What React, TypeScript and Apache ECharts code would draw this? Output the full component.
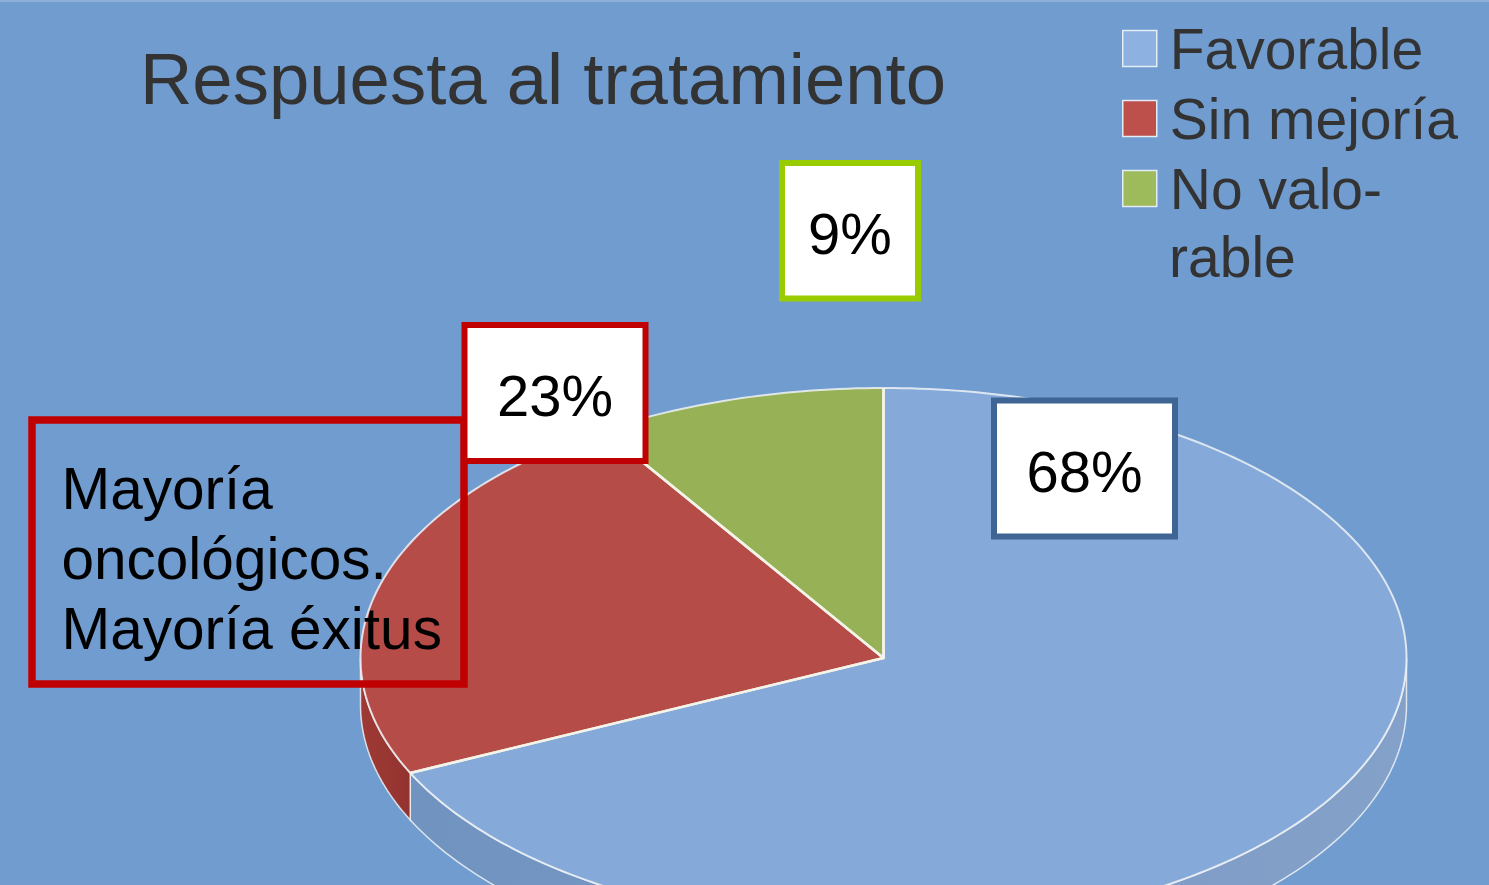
import React, { useEffect, useRef } from "react";
import * as echarts from "echarts";

const titleText = "Respuesta al tratamiento";
const categories = ["Favorable", "Sin mejoría", "No valorable"];
const legendLines = ["Favorable", "Sin mejoría", "No valo-"];
const legendContinuation = "rable";
const values = [68, 23, 9];
const topColors = ["#85A9D8", "#B64C48", "#96B156"];
const legendColors = ["#8DB1E1", "#BE504C", "#9EBB5C"];
const wallStops = [
  [{ offset: 0, color: "#7093C0" }, { offset: 0.5, color: "#7A99C4" }, { offset: 1, color: "#84A1C9" }],
  [{ offset: 0, color: "#9E3A36" }, { offset: 1, color: "#93332F" }],
  [{ offset: 0, color: "#7F9A45" }, { offset: 1, color: "#7F9A45" }],
];
const noteLines = ["Mayoría", "oncológicos.", "Mayoría éxitus"];
const boxColors = ["#3F6595", "#C00000", "#99CC00"];

const CX = 883.5;
const CY = 658;
const RX = 523;
const RY = 270;
const DEPTH = 47;
const TOTAL = values.reduce((a, b) => a + b, 0);
const RIM = "rgba(238,242,246,0.85)";
const SPOKE = "rgba(243,243,232,0.95)";

// angle measured clockwise from 12 o'clock, in degrees
const rim = (deg: number, dy = 0): number[] => {
  const a = (deg * Math.PI) / 180;
  return [CX + RX * Math.sin(a), CY - RY * Math.cos(a) + dy];
};
const arcPoints = (from: number, to: number, dy = 0): number[][] => {
  const n = Math.max(2, Math.ceil(Math.abs(to - from)));
  const pts: number[][] = [];
  for (let i = 0; i <= n; i++) pts.push(rim(from + ((to - from) * i) / n, dy));
  return pts;
};

const sliceRenderer = (index: number) => (_params: any, api: any) => {
  const before = values.slice(0, index).reduce((a, b) => a + b, 0);
  const start = (before / TOTAL) * 360;
  const end = start + (api.value(0) / TOTAL) * 360;
  const children: any[] = [];
  const wallFrom = Math.max(start, 90);
  const wallTo = Math.min(end, 270);
  if (wallTo > wallFrom) {
    children.push({
      type: "polygon",
      z2: 1,
      shape: { points: [...arcPoints(wallFrom, wallTo), ...arcPoints(wallTo, wallFrom, DEPTH)] },
      style: {
        fill: { type: "linear", x: 0, y: 0, x2: 1, y2: 0, colorStops: wallStops[index] },
        stroke: RIM,
        lineWidth: 1.5,
      },
    });
  }
  children.push({
    type: "polygon",
    z2: 2,
    shape: { points: [[CX, CY], ...arcPoints(start, end)] },
    style: { fill: topColors[index] },
  });
  children.push({
    type: "polyline",
    z2: 3,
    shape: { points: arcPoints(start, end) },
    style: { fill: "none", stroke: RIM, lineWidth: 2 },
  });
  children.push({
    type: "polyline",
    z2: 4,
    shape: { points: [rim(start), [CX, CY], rim(end)] },
    style: { fill: "none", stroke: SPOKE, lineWidth: 2.6, lineJoin: "round" },
  });
  return { type: "group", children };
};

const boxes = [
  { x: 994, y: 400.5, width: 181, height: 136 },
  { x: 464.5, y: 325, width: 181, height: 136 },
  { x: 782, y: 163, width: 136, height: 135.5 },
];
const labelCenters = [
  [1084.5, 471],
  [555, 395],
  [850, 233],
];

export default function App() {
  const ref = useRef<HTMLDivElement>(null);
  useEffect(() => {
    document.body.style.margin = "0";
    const chart = echarts.init(ref.current!, null, { renderer: "svg" });
    const font = "'Liberation Sans', Arial, sans-serif";
    chart.setOption({
      animation: false,
      backgroundColor: "#709CCF",
      title: {
        text: titleText,
        left: 140,
        top: 42,
        padding: 0,
        textStyle: { fontFamily: font, fontSize: 72.5, fontWeight: "normal", color: "#333333" },
      },
      legend: {
        left: 1122,
        top: 20,
        padding: 0,
        orient: "vertical",
        itemGap: 13,
        itemWidth: 34,
        itemHeight: 36,
        selectedMode: false,
        icon: "rect",
        data: categories.map((name, i) => ({
          name,
          itemStyle: { color: legendColors[i], borderColor: "#E4ECF5", borderWidth: 1.5 },
        })),
        formatter: (name: string) => legendLines[categories.indexOf(name)],
        textStyle: { fontFamily: font, fontSize: 57, color: "#333333", padding: [0, 0, 0, 8] },
      },
      series: categories.map((name, i) => ({
        type: "custom",
        name,
        coordinateSystem: "none",
        silent: true,
        itemStyle: { color: legendColors[i] },
        data: [values[i]],
        renderItem: sliceRenderer(i),
      })),
      graphic: {
        elements: [
          { type: "rect", z: 5, shape: { x: 0, y: 0.5, width: 1489, height: 1 }, style: { fill: "#A9C1DF" } },
          {
            type: "text", z: 5, x: 1169, y: 257,
            style: { text: legendContinuation, fontFamily: font, fontSize: 57, fill: "#333333", verticalAlign: "middle" },
          },
          {
            type: "rect", z: 10,
            shape: { x: 32, y: 420, width: 432, height: 264 },
            style: { fill: "transparent", stroke: "#C00000", lineWidth: 7.5 },
          },
          ...noteLines.map((text, i) => ({
            type: "text", z: 12, x: 61.5, y: 488 + i * 70,
            style: { text, fontFamily: font, fontSize: 58.5, fill: "#000000", verticalAlign: "middle" },
          })),
          ...boxes.map((shape, i) => ({
            type: "rect", z: 14, shape,
            style: { fill: "#FFFFFF", stroke: boxColors[i], lineWidth: 6 },
          })),
          ...values.map((v, i) => ({
            type: "text", z: 16, x: labelCenters[i][0], y: labelCenters[i][1],
            style: { text: `${v}%`, fontFamily: font, fontSize: 58, fill: "#000000", align: "center", verticalAlign: "middle" },
          })),
        ],
      },
    });
    return () => chart.dispose();
  }, []);
  return <div ref={ref} style={{ width: 1489, height: 885, overflow: "hidden" }} />;
}
